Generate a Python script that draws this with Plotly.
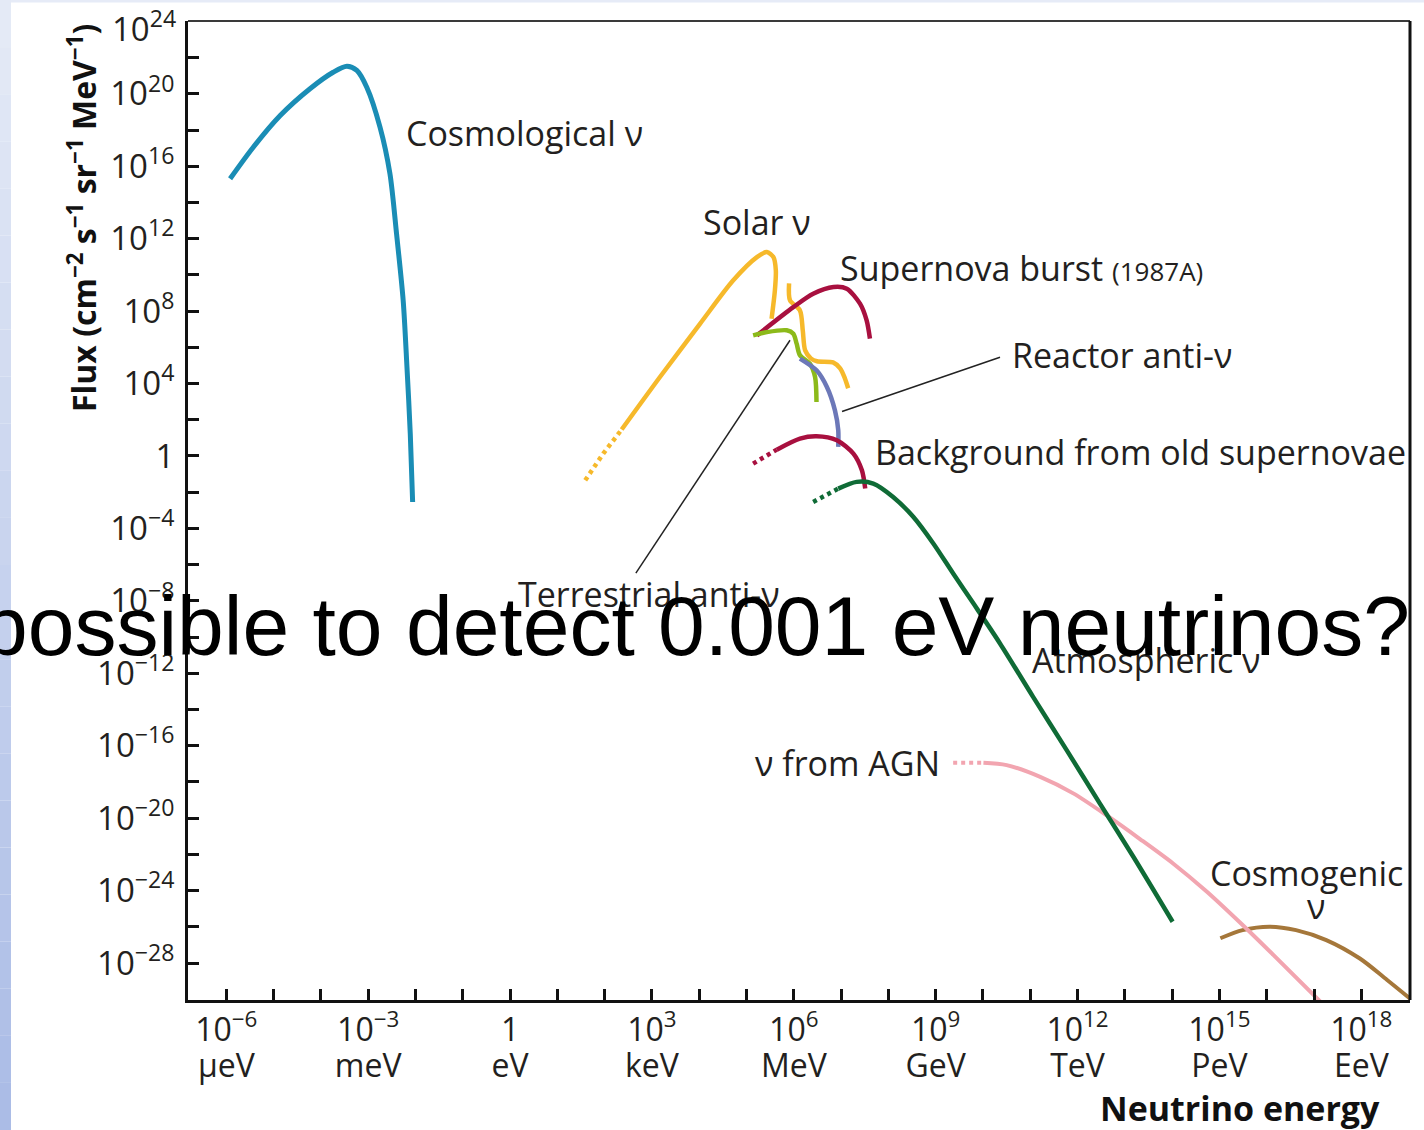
import numpy as np
import plotly.graph_objects as go

# ---------------- data (log10 of energy in eV, log10 of flux) ----------------
cosmo_logE = [-5.92, -5.43, -4.86, -4.23, -3.74, -3.45, -3.24, -3.03, -2.75, -2.54, -2.40, -2.26, -2.18, -2.11, -2.06]
cosmo_logF = [15.31, 17.05, 18.80, 20.28, 21.19, 21.52, 21.29, 20.36, 18.16, 15.59, 12.27, 8.59, 4.91, 1.24, -2.54]

solar_dot_logE = [1.59, 1.97, 2.36]
solar_dot_logF = [-1.34, 0.13, 1.46]
solar_logE = [2.36, 3.17, 4.02, 4.72, 5.22, 5.43, 5.57, 5.62, 5.60, 5.53]
solar_logF = [1.46, 4.36, 7.31, 9.70, 10.98, 11.26, 10.98, 10.25, 9.14, 7.58]
solar2_logE = [5.90, 5.92, 6.13, 6.19, 6.24, 6.36, 6.49, 6.83, 6.98, 7.08, 7.15]
solar2_logF = [9.53, 8.59, 8.04, 6.93, 5.83, 5.39, 5.23, 5.17, 4.84, 4.29, 3.74]

sn_logE = [5.22, 5.99, 6.41, 6.84, 7.12, 7.40, 7.54, 7.61]
sn_logF = [6.66, 8.22, 8.96, 9.33, 9.24, 8.41, 7.49, 6.48]

terr_logE = [5.14, 5.43, 5.85, 5.99, 6.06, 6.13, 6.34, 6.45, 6.48]
terr_logF = [6.66, 6.84, 6.94, 6.75, 6.20, 5.56, 5.10, 4.36, 2.98]

reac_logE = [6.13, 6.48, 6.70, 6.87, 6.94, 6.94]
reac_logF = [5.38, 4.73, 3.81, 2.52, 1.42, 0.50]

bg_dot_logE = [5.14, 5.64]
bg_dot_logF = [-0.42, 0.35]
bg_logE = [5.64, 6.13, 6.48, 6.91, 7.26, 7.44, 7.51]
bg_logF = [0.35, 0.96, 1.09, 0.87, 0.13, -0.79, -1.80]

atm_dot_logE = [6.41, 6.94]
atm_dot_logF = [-2.54, -1.80]
atm_logE = [6.94, 7.33, 7.68, 8.10, 8.53, 8.95, 9.37, 9.80, 10.36, 11.06, 11.77, 12.47, 13.18, 14.01]
atm_logF = [-1.80, -1.43, -1.52, -2.26, -3.37, -4.83, -6.49, -8.15, -10.35, -13.30, -16.24, -19.18, -22.13, -25.72]

agn_dot_logE = [9.37, 10.01]
agn_dot_logF = [-16.94, -16.94]
agn_logE = [10.01, 10.50, 11.21, 11.91, 12.62, 13.32, 14.02, 14.73, 15.43, 16.14, 17.20]
agn_logF = [-16.94, -17.07, -17.72, -18.63, -19.85, -21.15, -22.50, -24.05, -25.75, -27.55, -30.30]

cgen_logE = [15.02, 15.49, 16.06, 16.62, 17.26, 17.97, 18.54, 19.04]
cgen_logF = [-26.63, -26.18, -25.99, -26.18, -26.73, -27.75, -28.92, -29.98]

terr_leader_logE = [2.66, 5.92]
terr_leader_logF = [-6.47, 6.39]
reac_leader_logE = [7.02, 10.36]
reac_leader_logF = [2.46, 5.45]

# tick labels
x_major_exponents = [-6, -3, 0, 3, 6, 9, 12, 15, 18]
x_major_units = ["μeV", "meV", "eV", "keV", "MeV", "GeV", "TeV", "PeV", "EeV"]
x_minor_exponents = [k for k in range(-6, 19) if k not in x_major_exponents]
y_major_exponents = list(range(-28, 21, 4))          # 10^24 label is set just below the top edge
y_minor_exponents = list(range(-26, 24, 4)) + [24]
y_top_exponent = 24

# labels: (text, logE, logF, xanchor)
curve_labels = [
    ("Cosmological ν", -2.24, 17.86, "left"),
    ("Solar ν", 5.22, 12.90, "center"),
    ("Supernova burst <span style='font-size:26px'>(1987A)</span>", 6.93, 10.36, "left"),
    ("Reactor anti-ν", 10.57, 5.56, "left"),
    ("Background from old supernovae", 7.67, 0.20, "left"),
    ("Terrestrial anti-ν", 0.13, -7.63, "left"),
    ("Atmospheric ν", 10.99, -11.27, "left"),
    ("ν from AGN", 9.13, -16.96, "right"),
    ("Cosmogenic", 16.85, -23.0, "center"),
    ("ν", 17.05, -24.85, "center"),
]

# ---------------- figure ----------------
P = lambda a: np.power(10.0, np.array(a, dtype=float))

fig = go.Figure()

def add_line(lx, ly, color, width, dash="solid", shape="spline"):
    fig.add_trace(go.Scatter(
        x=P(lx), y=P(ly), mode="lines",
        line=dict(color=color, width=width, dash=dash, shape=shape, smoothing=0.8),
        hoverinfo="skip", showlegend=False))

C_SOLAR = "#f6b92b"
C_SN = "#a8103f"
C_TERR = "#8cba1a"
C_REAC = "#6c78b8"
C_ATM = "#0f6b36"
C_AGN = "#f2a5b0"
C_CGEN = "#a5773a"
C_COSMO = "#1a8db5"
DOT = "4px,4px"

add_line(solar_dot_logE, solar_dot_logF, C_SOLAR, 4.5, DOT, "linear")
add_line(solar_logE, solar_logF, C_SOLAR, 4.5)
add_line(solar2_logE, solar2_logF, C_SOLAR, 4.5)
add_line(sn_logE, sn_logF, C_SN, 4.5)
add_line(terr_logE, terr_logF, C_TERR, 4.5)
add_line(reac_logE, reac_logF, C_REAC, 4.5)
add_line(bg_dot_logE, bg_dot_logF, C_SN, 4.5, DOT, "linear")
add_line(bg_logE, bg_logF, C_SN, 4.5)
add_line(cgen_logE, cgen_logF, C_CGEN, 4)
add_line(agn_dot_logE, agn_dot_logF, C_AGN, 4, DOT, "linear")
add_line(agn_logE, agn_logF, C_AGN, 4)
add_line(atm_dot_logE, atm_dot_logF, C_ATM, 4.5, DOT, "linear")
add_line(atm_logE, atm_logF, C_ATM, 4.5)
add_line(cosmo_logE, cosmo_logF, C_COSMO, 5)
add_line(terr_leader_logE, terr_leader_logF, "#222222", 1.5, "solid", "linear")
add_line(reac_leader_logE, reac_leader_logF, "#222222", 1.5, "solid", "linear")

MINUS = "\u2212"
def sup(k):
    s = str(k).replace("-", MINUS)
    return f"10<sup>{s}</sup>"

BIG = "<span style='font-size:32px'>{}</span>"
x_ticktext = [BIG.format("1" if k == 0 else sup(k)) + "<br>" + BIG.format(u)
              for k, u in zip(x_major_exponents, x_major_units)]
y_ticktext = ["1" if k == 0 else sup(k) for k in y_major_exponents]

FONT = "Open Sans"
TXT = "#231f20"
TICK = dict(ticks="inside", ticklen=11, tickwidth=2.5, tickcolor="#111")

fig.update_xaxes(
    type="log", range=[-6.81, 19.03],
    tickmode="array", tickvals=P(x_major_exponents), ticktext=x_ticktext,
    minor=dict(tickmode="array", tickvals=P(x_minor_exponents), **TICK),
    showline=True, linewidth=3, linecolor="#111", mirror=False,
    showgrid=False, zeroline=False,
    tickfont=dict(family=FONT, size=28, color=TXT),
    ticklabelstandoff=4,
    **TICK,
)
fig.update_yaxes(
    type="log", range=[-30.04, 24.02],
    tickmode="array", tickvals=P(y_major_exponents), ticktext=y_ticktext,
    minor=dict(tickmode="array", tickvals=P(y_minor_exponents), **TICK),
    showline=True, linewidth=3, linecolor="#111", mirror=False,
    showgrid=False, zeroline=False,
    tickfont=dict(family=FONT, size=33, color=TXT),
    ticklabelstandoff=4,
    **TICK,
)

L, R, T, B = 188, 14, 21, 130
W, H = 1424, 1130
pw, ph = W - L - R, H - T - B
def px2paper_x(px):
    return (px - L) / pw
def px2paper_y(py):
    return 1 - (py - T) / ph

annotations = []
for text, lx, ly, anchor in curve_labels:
    annotations.append(dict(
        x=lx, y=ly, xref="x", yref="y", text=text, showarrow=False,
        xanchor=anchor, yanchor="middle",
        font=dict(family=FONT, size=34, color=TXT)))

# top y tick label, nudged below the top edge as in the reference
annotations.append(dict(
    x=px2paper_x(178), y=px2paper_y(26), xref="paper", yref="paper",
    text=sup(y_top_exponent), showarrow=False, xanchor="right", yanchor="middle",
    font=dict(family=FONT, size=33, color=TXT)))

annotations.append(dict(
    x=px2paper_x(82), y=px2paper_y(218), xref="paper", yref="paper",
    text="Flux (cm<sup>" + MINUS + "2</sup> s<sup>" + MINUS + "1</sup> sr<sup>" + MINUS + "1</sup> MeV<sup>" + MINUS + "1</sup>)",
    textangle=-90, showarrow=False, xanchor="center", yanchor="middle",
    font=dict(family=FONT, size=32, color="#111", weight="bold")))
annotations.append(dict(
    x=px2paper_x(1382), y=px2paper_y(1108), xref="paper", yref="paper",
    text="Neutrino energy", showarrow=False, xanchor="right", yanchor="middle",
    font=dict(family=FONT, size=34, color="#111", weight="bold")))
annotations.append(dict(
    x=px2paper_x(1412), y=px2paper_y(626), xref="paper", yref="paper",
    text="possible to detect 0.001 eV neutrinos?", showarrow=False,
    xanchor="right", yanchor="middle",
    font=dict(family="Liberation Sans", size=84, color="#000000")))

# slide background: left gradient strip and top band
shapes = []
top_c = np.array([0xe6, 0xeb, 0xf7])
bot_c = np.array([0xaa, 0xbc, 0xe6])
n = 24
for i in range(n):
    y0 = i * H / n
    y1 = (i + 1) * H / n
    t = (i + 0.5) / n
    c = (top_c * (1 - t) + bot_c * t).astype(int)
    shapes.append(dict(type="rect", xref="paper", yref="paper",
                       x0=px2paper_x(0), x1=px2paper_x(11),
                       y0=px2paper_y(y1), y1=px2paper_y(y0),
                       fillcolor=f"rgb({c[0]},{c[1]},{c[2]})", line=dict(width=0), layer="below"))
shapes.append(dict(type="rect", xref="paper", yref="paper",
                   x0=px2paper_x(11), x1=px2paper_x(W), y0=px2paper_y(2.5), y1=px2paper_y(0),
                   fillcolor="#e6ebf7", line=dict(width=0), layer="below"))
# frame: thinner grey top edge, heavy right edge
shapes.append(dict(type="line", xref="paper", yref="paper", x0=0, x1=1, y0=1, y1=1,
                   line=dict(color="#3a3a3a", width=2), layer="above"))
shapes.append(dict(type="line", xref="paper", yref="paper", x0=1, x1=1, y0=0, y1=1,
                   line=dict(color="#111", width=3), layer="above"))

fig.update_layout(
    width=W, height=H,
    margin=dict(l=L, r=R, t=T, b=B, autoexpand=False),
    paper_bgcolor="white", plot_bgcolor="white",
    annotations=annotations, shapes=shapes,
    showlegend=False,
)

fig.write_html("out.html", config={"displayModeBar": False},
               post_script="document.body.style.margin='0px';")
